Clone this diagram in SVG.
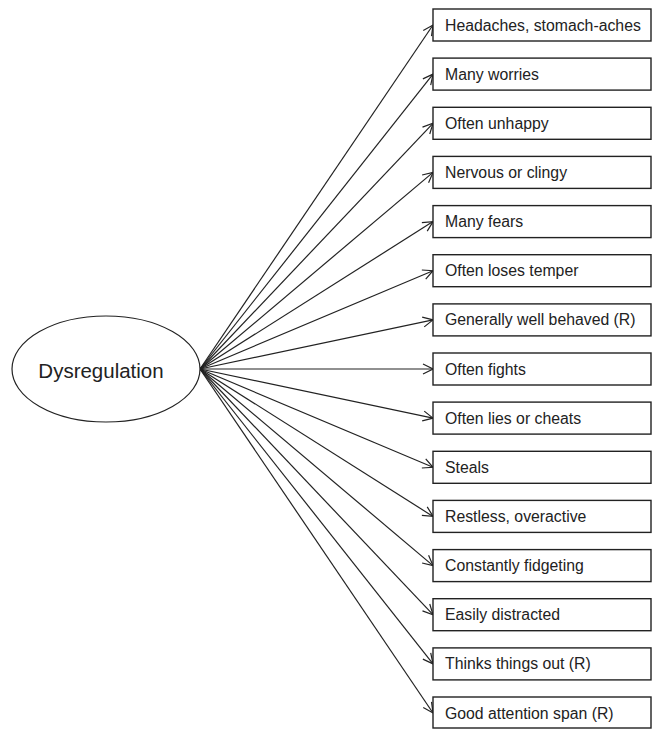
<svg xmlns="http://www.w3.org/2000/svg" width="652" height="729" viewBox="0 0 652 729">
<style>
.box{fill:#fff;stroke:#222;stroke-width:1.4}
.lbl{font-family:"Liberation Sans",Arial,sans-serif;font-size:15.8px;fill:#222}
.cn{stroke:#222;stroke-width:1.2;fill:none;marker-end:url(#ah)}
</style>
<defs>
<marker id="ah" markerWidth="12" markerHeight="12" refX="11" refY="6" orient="auto" markerUnits="userSpaceOnUse">
<path d="M1,1 L11,6 L1,11" fill="none" stroke="#222" stroke-width="1.2"/>
</marker>
</defs>
<rect width="652" height="729" fill="#fff"/>
<g id="connectors">
<line class="cn" x1="200" y1="369" x2="433" y2="25"/>
<line class="cn" x1="200" y1="369" x2="433" y2="74.1"/>
<line class="cn" x1="200" y1="369" x2="433" y2="123.3"/>
<line class="cn" x1="200" y1="369" x2="433" y2="172.4"/>
<line class="cn" x1="200" y1="369" x2="433" y2="221.6"/>
<line class="cn" x1="200" y1="369" x2="433" y2="270.7"/>
<line class="cn" x1="200" y1="369" x2="433" y2="319.9"/>
<line class="cn" x1="200" y1="369" x2="433" y2="369"/>
<line class="cn" x1="200" y1="369" x2="433" y2="418.1"/>
<line class="cn" x1="200" y1="369" x2="433" y2="467.3"/>
<line class="cn" x1="200" y1="369" x2="433" y2="516.4"/>
<line class="cn" x1="200" y1="369" x2="433" y2="565.6"/>
<line class="cn" x1="200" y1="369" x2="433" y2="614.7"/>
<line class="cn" x1="200" y1="369" x2="433" y2="663.9"/>
<line class="cn" x1="200" y1="369" x2="433" y2="713"/>
</g>
<g id="dysregulation">
<ellipse cx="106" cy="369" rx="94" ry="53" fill="#fff" stroke="#222" stroke-width="1.2"/>
<text x="101" y="378" text-anchor="middle" font-family="Liberation Sans,Arial,sans-serif" font-size="20.5" fill="#222">Dysregulation</text>
</g>
<g id="n1"><rect class="box" x="433" y="9" width="218" height="32"/><text class="lbl" x="445" y="30.5">Headaches, stomach-aches</text></g>
<g id="n2"><rect class="box" x="433" y="58.1" width="218" height="32"/><text class="lbl" x="445" y="79.6">Many worries</text></g>
<g id="n3"><rect class="box" x="433" y="107.3" width="218" height="32"/><text class="lbl" x="445" y="128.8">Often unhappy</text></g>
<g id="n4"><rect class="box" x="433" y="156.4" width="218" height="32"/><text class="lbl" x="445" y="177.9">Nervous or clingy</text></g>
<g id="n5"><rect class="box" x="433" y="205.6" width="218" height="32"/><text class="lbl" x="445" y="227.1">Many fears</text></g>
<g id="n6"><rect class="box" x="433" y="254.7" width="218" height="32"/><text class="lbl" x="445" y="276.2">Often loses temper</text></g>
<g id="n7"><rect class="box" x="433" y="303.9" width="218" height="32"/><text class="lbl" x="445" y="325.4">Generally well behaved (R)</text></g>
<g id="n8"><rect class="box" x="433" y="353" width="218" height="32"/><text class="lbl" x="445" y="374.5">Often fights</text></g>
<g id="n9"><rect class="box" x="433" y="402.1" width="218" height="32"/><text class="lbl" x="445" y="423.6">Often lies or cheats</text></g>
<g id="n10"><rect class="box" x="433" y="451.3" width="218" height="32"/><text class="lbl" x="445" y="472.8">Steals</text></g>
<g id="n11"><rect class="box" x="433" y="500.4" width="218" height="32"/><text class="lbl" x="445" y="521.9">Restless, overactive</text></g>
<g id="n12"><rect class="box" x="433" y="549.6" width="218" height="32"/><text class="lbl" x="445" y="571.1">Constantly fidgeting</text></g>
<g id="n13"><rect class="box" x="433" y="598.7" width="218" height="32"/><text class="lbl" x="445" y="620.2">Easily distracted</text></g>
<g id="n14"><rect class="box" x="433" y="647.9" width="218" height="32"/><text class="lbl" x="445" y="669.4">Thinks things out (R)</text></g>
<g id="n15"><rect class="box" x="433" y="697" width="218" height="31"/><text class="lbl" x="445" y="718.5">Good attention span (R)</text></g>
</svg>
